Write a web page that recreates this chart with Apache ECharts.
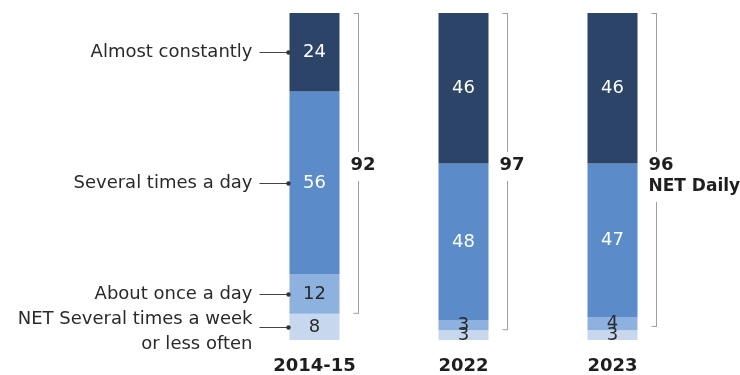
<!DOCTYPE html>
<html>
<head>
<meta charset="utf-8">
<script src="https://cdn.jsdelivr.net/npm/echarts@6/dist/echarts.min.js"></script>
<style>
html,body{margin:0;padding:0;background:#fff;}
#chart{width:740px;height:375px;}
</style>
</head>
<body>
<div id="chart"></div>
<script>
const categories = ['2014-15', '2022', '2023'];
const lessOften = [8, 3, 3];
const onceADay = [12, 3, 4];
const severalADay = [56, 48, 47];
const almostConstantly = [24, 46, 46];
const netDaily = [92, 97, 96];
const netLabels = [['92'], ['97'], ['96', 'NET Daily']];
const segmentNames = ['NET Several times a week\nor less often', 'About once a day', 'Several times a day', 'Almost constantly'];

const FONT = '"DejaVu Sans", sans-serif';
const BAR_W = 50;
const colors = ['#c6d7ee', '#8db2df', '#5b8bc8', '#2c4468'];

// mids of segments in first bar, for left labels
const firstSegs = [lessOften[0], onceADay[0], severalADay[0], almostConstantly[0]];
const leftData = [];
let cum = 0;
firstSegs.forEach((v) => { leftData.push([0, cum + v / 2]); cum += v; });

const chart = echarts.init(document.getElementById('chart'));

function barSeries(name, data, color, labelColor) {
  return {
    name: name, type: 'bar', stack: 'total', data: data, barWidth: BAR_W,
    itemStyle: { color: color },
    label: { show: true, position: 'inside', color: labelColor, fontFamily: FONT, fontSize: 18 },
    emphasis: { disabled: true }, silent: true
  };
}

chart.setOption({
  animation: false,
  grid: { left: 240, right: 53, top: 13, bottom: 33 },
  xAxis: {
    type: 'category', data: categories,
    axisLine: { show: false }, axisTick: { show: false },
    axisLabel: { color: '#1e1e1e', fontFamily: FONT, fontWeight: 'bold', fontSize: 18, margin: 17 }
  },
  yAxis: { type: 'value', min: 0, max: 100, show: false, splitLine: { show: false } },
  series: [
    barSeries(segmentNames[0], lessOften, colors[0], '#2a2a2a'),
    barSeries(segmentNames[1], onceADay, colors[1], '#2a2a2a'),
    barSeries(segmentNames[2], severalADay, colors[2], '#fff'),
    barSeries(segmentNames[3], almostConstantly, colors[3], '#fff'),
    {
      type: 'custom', clip: false, silent: true, z: 5,
      data: categories.map((c, i) => [i, netDaily[i]]),
      renderItem: function (params, api) {
        const i = api.value(0), net = api.value(1);
        const t = api.coord([i, 100]);
        const b = api.coord([i, 100 - net]);
        const x = Math.round(t[0] + 43) + 0.5;
        const top = t[1], bot = b[1];
        const labelTop = api.coord([i, 56.3])[1];
        const lines = netLabels[params.dataIndex];
        const gapTop = labelTop - 4;
        const gapBot = labelTop + (lines.length === 1 ? 25 : 46);
        const stroke = { stroke: '#a0a0a0', lineWidth: 1 };
        const children = [
          { type: 'line', shape: { x1: x, y1: top, x2: x, y2: gapTop }, style: stroke },
          { type: 'line', shape: { x1: x, y1: gapBot, x2: x, y2: bot }, style: stroke },
          { type: 'line', shape: { x1: x - 5, y1: top + 0.5, x2: x, y2: top + 0.5 }, style: stroke },
          { type: 'line', shape: { x1: x - 5, y1: bot - 0.5, x2: x, y2: bot - 0.5 }, style: stroke }
        ];
        lines.forEach((s, k) => {
          children.push({
            type: 'text',
            style: {
              text: s, x: x - 8, y: labelTop + k * 22,
              fill: '#1e1e1e', font: 'bold ' + (k === 0 ? 18 : 17) + 'px ' + FONT,
              align: 'left', verticalAlign: 'top'
            }
          });
        });
        return { type: 'group', children: children };
      }
    },
    {
      type: 'custom', clip: false, silent: true, z: 5,
      data: leftData,
      renderItem: function (params, api) {
        const p = api.coord([api.value(0), api.value(1)]);
        const left = p[0] - BAR_W / 2;
        const y = Math.round(p[1]) + 0.5;
        const name = segmentNames[params.dataIndex];
        const twoLines = name.indexOf('\n') >= 0;
        return {
          type: 'group',
          children: [
            { type: 'line', shape: { x1: left - 30, y1: y, x2: left - 1, y2: y }, style: { stroke: '#444', lineWidth: 1 } },
            { type: 'circle', shape: { cx: left - 1, cy: y, r: 2.2 }, style: { fill: '#333' } },
            {
              type: 'text',
              style: {
                text: name, x: left - 37, y: y + (twoLines ? 4 : 0),
                fill: '#2a2a2a', font: '18px ' + FONT,
                align: 'right', verticalAlign: 'middle', lineHeight: 25
              }
            }
          ]
        };
      }
    }
  ]
});
</script>
</body>
</html>
